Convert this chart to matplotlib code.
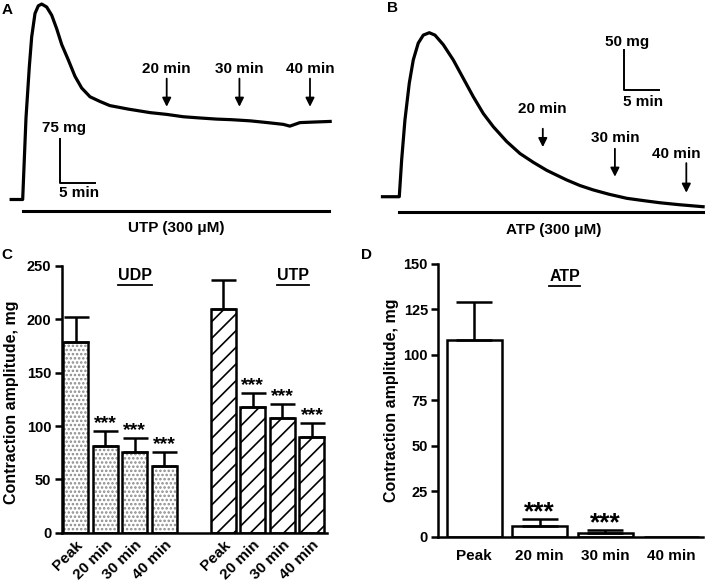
import numpy as np
import matplotlib
matplotlib.use('Agg')
import matplotlib.pyplot as plt
from matplotlib.lines import Line2D

plt.rcParams['font.family'] = ['Liberation Sans', 'DejaVu Sans']
plt.rcParams['font.weight'] = 'bold'
plt.rcParams['hatch.linewidth'] = 1.2

# trace A: UTP, time (min) vs tension (mg)
utpTime = [-1.6, 0, 0.46, 0.92, 1.25, 1.71, 2.17, 2.64, 3.33, 4.03, 4.72, 5.42,
           6.33, 7.26, 8.19, 9.35, 10.74, 12.1, 14.67, 17.7, 20.0, 22.3, 24.5,
           26.9, 29.0, 31.6, 34.0, 36.2, 37.1, 38.5, 40.5, 42.7]
utpTrace = [0, 0, 139, 226, 277, 317, 330, 333, 328, 314, 291, 264,
            238, 210, 190, 175, 167, 160, 154, 148, 145, 141, 139,
            137, 136, 134, 131, 128, 125, 131, 132, 133]
# trace B: ATP
atpTime = [-2.4, 0, 0.34, 0.81, 1.43, 2.0, 2.71, 3.43, 4.29, 5.1, 6.29, 7.71,
           9.14, 10.57, 12.0, 13.43, 15.34, 17.24, 19.14, 21.06, 22.71, 23.9,
           25.8, 27.7, 30.0, 32.5, 35.0, 37.2, 40.0, 43.4]
atpTrace = [0, 0, 46, 96, 142, 171, 192, 202, 205, 202, 190, 171,
            148, 125, 104, 87.5, 69, 54, 43, 33, 26, 21,
            14, 8.5, 3, -2, -5, -7.5, -10, -12.5]

arrowLabels = ['20 min', '30 min', '40 min']
utpArrowTime = [20.0, 30.1, 39.9]
atpArrowTime = [20.5, 30.8, 41.0]

# bar data
barLabels = ['Peak', '20 min', '30 min', '40 min']
udpMean = [179, 81.5, 75.3, 62.5]
udpSem = [23.5, 13.7, 13.1, 12.8]
utpMean = [210, 117.5, 107.2, 90]
utpSem = [27, 13.1, 13.1, 13]
atpMean = [108.4, 5.9, 1.8, 0]
atpSem = [20.5, 3.8, 1.9, 0]

W, H = 709, 585
figure = plt.figure(figsize=(W / 100, H / 100), dpi=100)
textSize = 11


def pixAxes(x0, y0, x1, y1):
    return figure.add_axes([x0 / W, 1 - y1 / H, (x1 - x0) / W, (y1 - y0) / H])


def scaleBar(axes, t, a, dt, da, ylabel, tlabel, ylabpos, tlabpos):
    axes.plot([t, t, t + dt], [a + da, a, a], color='k', lw=1.4)
    axes.text(*ylabpos, ylabel, ha='center', va='center', fontsize=textSize)
    axes.text(*tlabpos, tlabel, ha='center', va='center', fontsize=textSize)


def arrow(axes, t, top, tip, label, labelx, labely):
    axes.annotate('', xy=(t, tip), xytext=(t, top),
                  arrowprops=dict(arrowstyle='-|>', lw=1.3, color='k',
                                  mutation_scale=13, shrinkA=0, shrinkB=0))
    axes.text(labelx, labely, label, ha='center', va='center',
              fontsize=textSize)


# ---- panel A ----
axes = pixAxes(0, 0, 355, 240)
axes.set_xlim(-3.15, 46.15)
axes.set_ylim(-69, 339.9)
axes.axis('off')
axes.plot(utpTime, utpTrace, color='k', lw=2.3, clip_on=False,
          solid_joinstyle='round')
axes.plot([0.1, 42.6], [-20, -20], color='k', lw=2.2)
axes.text(21.3, -49, 'UTP (300 μM)', ha='center', va='center', fontsize=textSize)
for t, label in zip(utpArrowTime, arrowLabels):
    arrow(axes, t, 206, 158, label, t, 223)
scaleBar(axes, 5.2, 28.7, 4.9, 75, '75 mg', '5 min', (5.7, 121), (7.8, 10.5))

# ---- panel B ----
axes = pixAxes(360, 0, 709, 240)
axes.set_xlim(-5.61, 44.24)
axes.set_ylim(-54.1, 245.9)
axes.axis('off')
axes.plot(atpTime, atpTrace, color='k', lw=2.3, clip_on=False,
          solid_joinstyle='round')
axes.plot([0, 43.4], [-18.8, -18.8], color='k', lw=2.2)
axes.text(22, -41.7, 'ATP (300 μM)', ha='center', va='center', fontsize=textSize)
arrowTops = [85, 60, 42]
arrowTips = [62, 25, 5]
arrowTextX = [20.5, 30.8, 39.6]
arrowTextY = [110, 74, 53]
for t, label, top, tip, lx, ly in zip(atpArrowTime, arrowLabels, arrowTops,
                                      arrowTips, arrowTextX, arrowTextY):
    arrow(axes, t, top, tip, label, lx, ly)
scaleBar(axes, 32.1, 133, 5, 50, '50 mg', '5 min', (32.5, 194), (34.8, 119))


def styleBars(axes, yticks):
    for side in ['top', 'right']:
        axes.spines[side].set_visible(False)
    for side in ['left', 'bottom']:
        axes.spines[side].set_linewidth(1.8)
    axes.set_yticks(yticks)
    axes.tick_params(axis='y', width=1.8, length=5, labelsize=10.5, pad=2.5)
    axes.tick_params(axis='x', length=0, labelsize=11)
    axes.set_ylabel('Contraction amplitude, mg', fontsize=11.5,
                    fontweight='bold')


# ---- panel C ----
axes = pixAxes(61.7, 266, 326.7, 532.7)
posUdp = np.arange(4)
posUtp = np.arange(4) + 5
width = 0.85
axes.bar(posUdp, udpMean, width, color='white', edgecolor='#8a8a8a',
         hatch='....', lw=0)
axes.bar(posUdp, udpMean, width, fill=False, edgecolor='k', lw=1.8)
axes.bar(posUtp, utpMean, width, color='white', edgecolor='k',
         hatch='//', lw=1.8)
for pos, mean, sem in [(posUdp, udpMean, udpSem), (posUtp, utpMean, utpSem)]:
    axes.errorbar(pos, mean, yerr=[np.zeros(4), sem], fmt='none', ecolor='k',
                  elinewidth=1.8, capsize=9, capthick=1.8)
    for p, m, s in list(zip(pos, mean, sem))[1:]:
        axes.text(p, m + s - 1, '***', ha='center', va='bottom', fontsize=14)
axes.set_xlim(-0.47, 8.5)
axes.set_ylim(0, 250)
styleBars(axes, [0, 50, 100, 150, 200, 250])
axes.set_xticks(np.concatenate([posUdp, posUtp]))
axes.set_xticklabels(barLabels * 2, rotation=45, ha='right',
                     rotation_mode='anchor')
axes.yaxis.set_label_coords(-0.16, 0.49)
groupC = [axes.text(2.0, 241, 'UDP', ha='center', va='center', fontsize=11.5),
          axes.text(7.37, 241, 'UTP', ha='center', va='center', fontsize=11.5)]

# ---- panel D ----
axes = pixAxes(438.3, 264, 703.3, 536.7)
posAtp = np.arange(4)
axes.bar(posAtp, atpMean, 0.84, color='white', edgecolor='k', lw=1.8)
axes.errorbar(posAtp[:3], atpMean[:3], yerr=[np.zeros(3), atpSem[:3]],
              fmt='none', ecolor='k', elinewidth=1.8, capsize=13, capthick=1.8)
for p, m, s in list(zip(posAtp, atpMean, atpSem))[1:3]:
    axes.text(p, m + s - 3, '***', ha='center', va='bottom', fontsize=19)
axes.set_xlim(-0.546, 3.49)
axes.set_ylim(0, 150)
styleBars(axes, [0, 25, 50, 75, 100, 125, 150])
axes.set_xticks(posAtp)
axes.set_xticklabels(barLabels)
axes.tick_params(axis='x', pad=9)
axes.yaxis.set_label_coords(-0.15, 0.5)
groupD = [axes.text(1.38, 143, 'ATP', ha='center', va='center', fontsize=11.5)]

# panel letters
for label, x, y in [('A', 7.3, 10), ('B', 392, 8), ('C', 7, 255), ('D', 367, 255)]:
    figure.text(x / W, 1 - y / H, label, ha='center', va='center',
                fontsize=textSize)

# underline group titles
figure.canvas.draw()
renderer = figure.canvas.get_renderer()
for text in groupC + groupD:
    box = text.get_window_extent(renderer)
    y = box.y0 - 1.5
    figure.add_artist(Line2D([box.x0 / W, box.x1 / W], [y / H, y / H],
                             color='k', lw=1.3, transform=figure.transFigure))

figure.savefig('out.png', dpi=100)
